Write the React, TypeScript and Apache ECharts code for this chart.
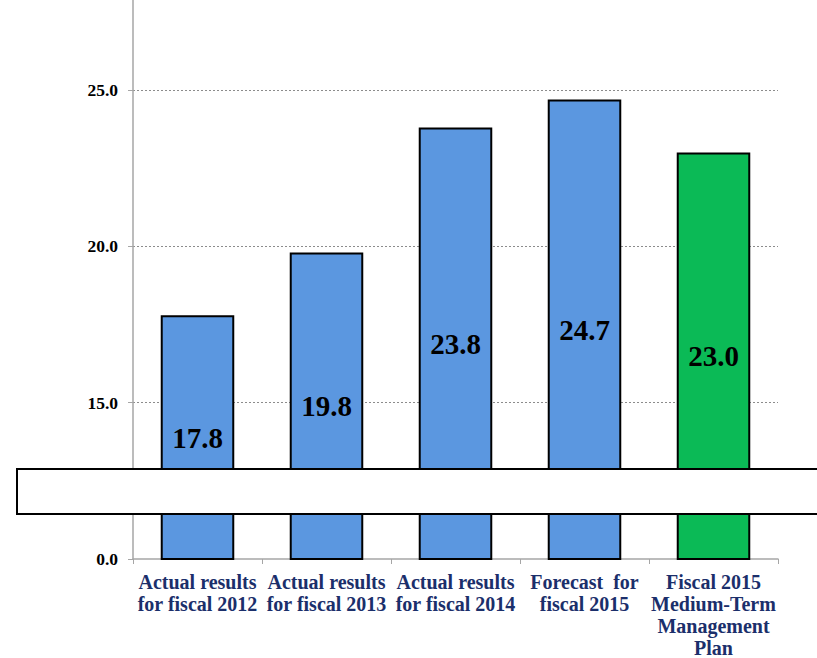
import React, { useEffect, useRef } from "react";
import * as echarts from "echarts";

// Categories and values for the bar chart
const categories = [
  "Actual results\nfor fiscal 2012",
  "Actual results\nfor fiscal 2013",
  "Actual results\nfor fiscal 2014",
  "Forecast  for\nfiscal 2015",
  "Fiscal 2015\nMedium-Term\nManagement\nPlan",
];
const values = [17.8, 19.8, 23.8, 24.7, 23.0];
const barColors = ["#5B97E0", "#5B97E0", "#5B97E0", "#5B97E0", "#0BBA56"];

// Axis: the lower part is broken, the baseline is labelled "0.0"
const axisMin = 10;
const axisMax = 27.88;
const axisStep = 5;
const baselineLabel = "0.0";

const serif = "'Liberation Serif', 'DejaVu Serif', 'Times New Roman', serif";

export default function App() {
  const ref = useRef<HTMLDivElement>(null);

  useEffect(() => {
    if (!ref.current) return;
    const chart = echarts.init(ref.current, null, { renderer: "svg" });
    chart.setOption({
      animation: false,
      backgroundColor: "#ffffff",
      grid: {
        left: 133,
        right: 39,
        top: 0,
        bottom: 99,
        containLabel: false,
        outerBoundsMode: "none",
      },
      xAxis: {
        type: "category",
        data: categories,
        axisLine: { lineStyle: { color: "#A6A6A6", width: 1.5 } },
        axisTick: { show: true, length: 5, lineStyle: { color: "#A6A6A6" } },
        axisLabel: {
          interval: 0,
          color: "#1B2F6B",
          fontFamily: serif,
          fontWeight: "bold",
          fontSize: 20,
          lineHeight: 22,
          margin: 12,
        },
      },
      yAxis: {
        type: "value",
        min: axisMin,
        max: axisMax,
        interval: axisStep,
        axisLine: { show: true, lineStyle: { color: "#A6A6A6", width: 1.5 } },
        axisTick: { show: true, length: 5, lineStyle: { color: "#A6A6A6" } },
        splitLine: {
          show: true,
          showMinLine: false,
          showMaxLine: false,
          lineStyle: { color: "#8C8C8C", type: [2, 2], width: 1 },
        },
        axisLabel: {
          color: "#000",
          fontFamily: serif,
          fontWeight: "bold",
          fontSize: 17.5,
          margin: 15,
          showMaxLabel: false,
          formatter: (v: number) =>
            v === axisMin
              ? baselineLabel
              : (v - axisMin) % axisStep === 0
              ? v.toFixed(1)
              : "",
        },
      },
      series: [
        {
          type: "bar",
          barWidth: "57%",
          data: values.map((v, i) => ({
            value: v,
            itemStyle: { color: barColors[i] },
          })),
          itemStyle: { borderColor: "#000", borderWidth: 2 },
          label: {
            show: true,
            position: "inside",
            color: "#000",
            fontFamily: serif,
            fontWeight: "bold",
            fontSize: 29,
            formatter: (p: any) => Number(p.value).toFixed(1),
          },
        },
      ],
      graphic: [
        {
          type: "rect",
          z: 100,
          shape: { x: 17, y: 469, width: 830, height: 45 },
          style: { fill: "#ffffff", stroke: "#000000", lineWidth: 2 },
        },
      ],
    });
    return () => chart.dispose();
  }, []);

  return (
    <div
      ref={ref}
      style={{ position: "fixed", left: 0, top: 0, width: 817, height: 658 }}
    />
  );
}
